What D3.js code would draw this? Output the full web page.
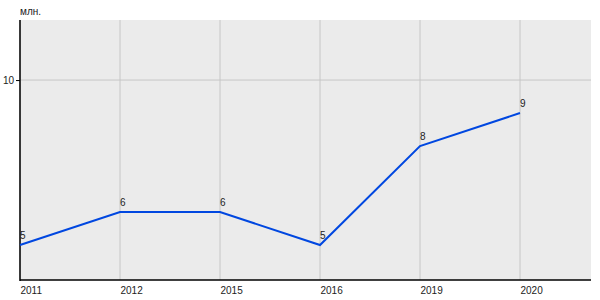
<!DOCTYPE html>
<html>
<head>
<meta charset="utf-8">
<script src="https://cdn.jsdelivr.net/npm/d3@7.9.0/dist/d3.min.js"></script>
<style>
  body { margin: 0; background: #fff; }
  svg text { font-family: "Liberation Sans", Arial, sans-serif; font-size: 10px; }
</style>
</head>
<body>
<svg id="chart" width="600" height="300"></svg>
<script>
const years = ['2011', '2012', '2015', '2016', '2019', '2020'];
const values = [5, 6, 6, 5, 8, 9];
const yTicks = [10];
const unitLabel = 'млн.';

const svg = d3.select('#chart');
const plotLeft = 20, plotRight = 591, plotTop = 20, plotBottom = 280;

let x = d3.scalePoint().domain(years).range([plotLeft, plotLeft + 500]);
let y = d3.scaleLinear().domain([3.94, 11.82]).range([plotBottom, plotTop]);

svg.append('rect')
  .attr('x', plotLeft).attr('y', plotTop)
  .attr('width', plotRight - plotLeft).attr('height', plotBottom - plotTop)
  .attr('fill', '#ebebeb');

// grid
svg.append('g')
  .selectAll('line')
  .data(years)
  .join('line')
  .attr('x1', (d) => x(d)).attr('x2', (d) => x(d))
  .attr('y1', plotTop).attr('y2', plotBottom)
  .attr('stroke', '#c6c6c6').attr('stroke-width', 1);

svg.append('g')
  .selectAll('line')
  .data(yTicks)
  .join('line')
  .attr('x1', plotLeft).attr('x2', plotRight)
  .attr('y1', (d) => y(d)).attr('y2', (d) => y(d))
  .attr('stroke', '#c6c6c6').attr('stroke-width', 1);

// axes
let yAxis = svg.append('g')
  .attr('transform', `translate(${plotLeft},0)`)
  .call(d3.axisLeft(y).tickValues(yTicks).tickSize(4).tickPadding(2));
yAxis.select('.domain').remove();
yAxis.selectAll('text').attr('fill', '#222');
svg.append('line')
  .attr('x1', plotLeft).attr('x2', plotLeft).attr('y1', plotTop).attr('y2', plotBottom + 1)
  .attr('stroke', '#000').attr('stroke-width', 1.5);

let xAxis = svg.append('g')
  .attr('transform', `translate(0,${plotBottom})`)
  .call(d3.axisBottom(x).tickSize(0).tickPadding(7));
xAxis.select('.domain').remove();
xAxis.selectAll('text')
  .attr('text-anchor', 'start')
  .attr('fill', '#222');
svg.append('line')
  .attr('x1', plotLeft).attr('x2', plotRight).attr('y1', plotBottom).attr('y2', plotBottom)
  .attr('stroke', '#000').attr('stroke-width', 1.5);

// line
let line = d3.line()
  .x((d, i) => x(years[i]))
  .y((d) => y(d));
svg.append('path')
  .datum(values)
  .attr('d', line)
  .attr('fill', 'none')
  .attr('stroke', '#0047e0')
  .attr('stroke-width', 2);

// value labels
svg.append('g')
  .selectAll('text')
  .data(values)
  .join('text')
  .attr('x', (d, i) => x(years[i]))
  .attr('y', (d) => y(d) - 6)
  .attr('fill', '#222')
  .text((d) => d);

svg.append('text')
  .attr('x', plotLeft).attr('y', 15)
  .attr('fill', '#222')
  .text(unitLabel);
</script>
</body>
</html>
